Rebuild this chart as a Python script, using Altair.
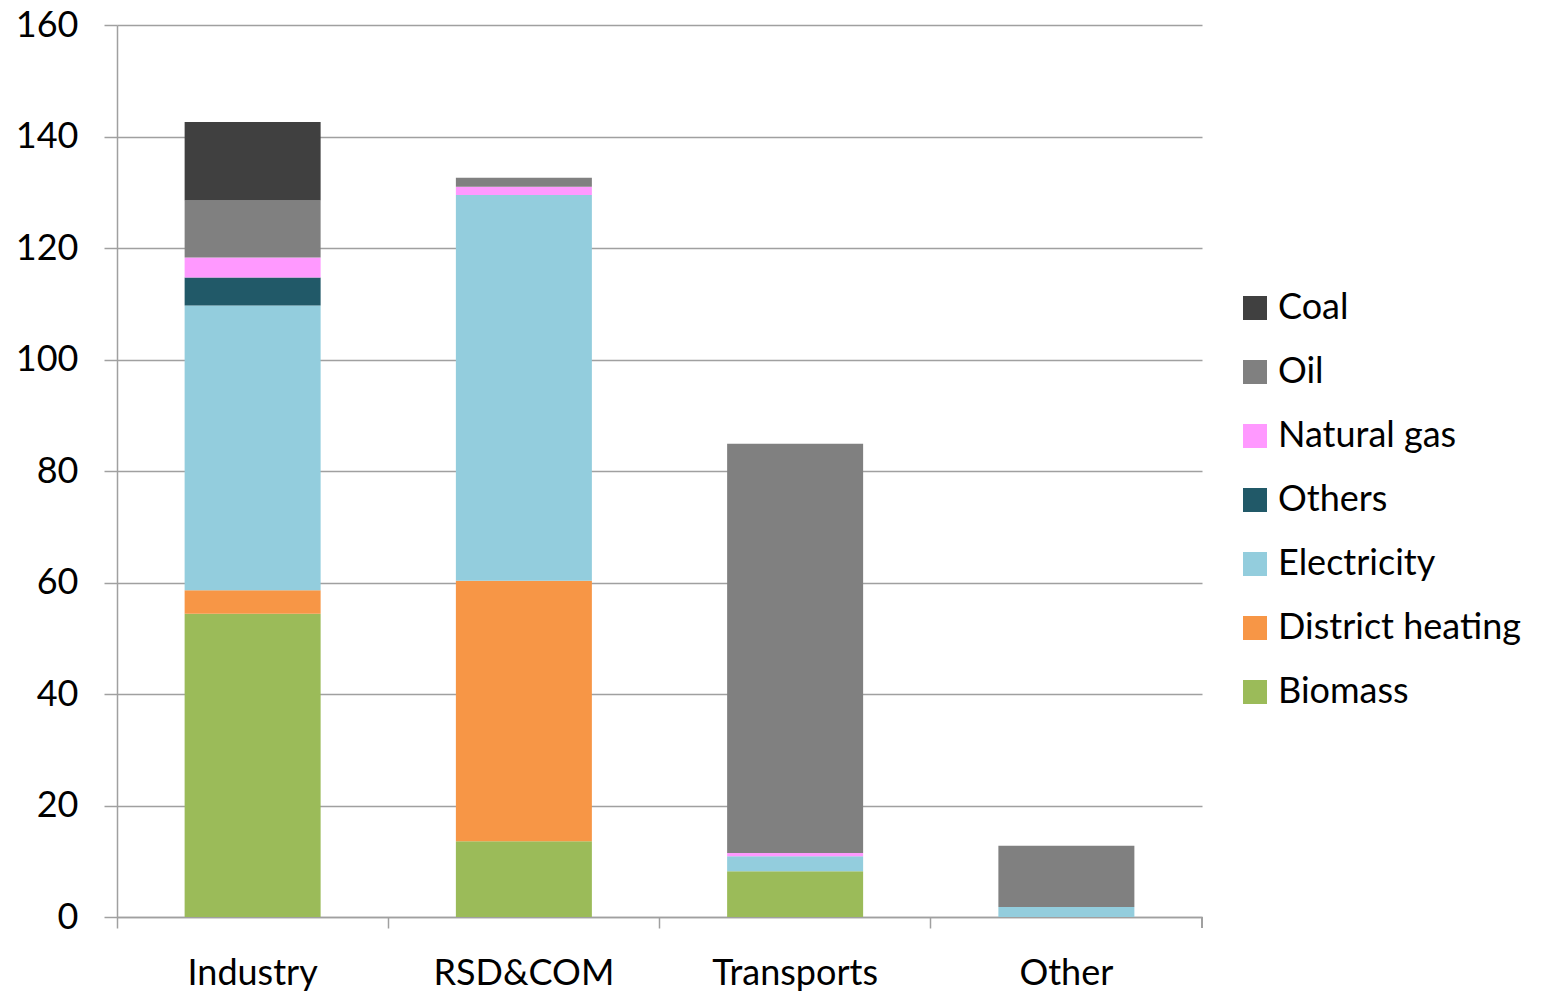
import altair as alt
import pandas as pd

sectors = ["Industry", "RSD&COM", "Transports", "Other"]
fuels = ["Biomass", "District heating", "Electricity", "Others", "Natural gas", "Oil", "Coal"]
colors = ["#9BBB59", "#F79646", "#93CDDD", "#215968", "#FF99FF", "#808080", "#404040"]

# Final consumption by fuel for each sector (bottom to top of each stack)
biomass = [54.4, 13.6, 8.2, 0.0]
district_heating = [4.2, 46.7, 0.0, 0.0]
electricity = [51.1, 69.2, 2.7, 1.8]
others = [5.0, 0.0, 0.0, 0.0]
natural_gas = [3.6, 1.5, 0.6, 0.0]
oil = [10.2, 1.6, 73.4, 11.0]
coal = [14.1, 0.0, 0.0, 0.0]

series = [biomass, district_heating, electricity, others, natural_gas, oil, coal]

rows = []
for k, (fuel, vals) in enumerate(zip(fuels, series)):
    for s, v in zip(sectors, vals):
        rows.append({"sector": s, "fuel": fuel, "value": v, "rank": k})
df = pd.DataFrame(rows)

W, H = 1085, 892
FONT = "Lato"

bars = alt.Chart(df).mark_bar(size=136).encode(
    x=alt.X("sector:N", sort=sectors, title=None,
            scale=alt.Scale(paddingInner=0.5, paddingOuter=0.25),
            axis=alt.Axis(labelAngle=0, labelFontSize=36, labelFont=FONT,
                          labelColor="#000000", labelPadding=28, labelLimit=400,
                          bandPosition=-0.5, ticks=True, tickSize=11,
                          tickColor="#A0A0A0", tickWidth=1.5,
                          domainColor="#A0A0A0", domainWidth=1.5, grid=False)),
    y=alt.Y("value:Q", title=None,
            scale=alt.Scale(domain=[0, 160], nice=False),
            axis=alt.Axis(values=list(range(0, 161, 20)), labelFontSize=36,
                          labelFont=FONT, labelColor="#000000", labelPadding=26,
                          tickSize=13, tickColor="#A0A0A0", tickWidth=1.5,
                          domainColor="#A0A0A0", domainWidth=1.5,
                          gridColor="#A0A0A0", gridWidth=1.5)),
    color=alt.Color("fuel:N", title=None,
                    scale=alt.Scale(domain=fuels, range=colors),
                    sort=list(reversed(fuels)),
                    legend=alt.Legend(orient="none", legendX=1120, legendY=265,
                                      symbolType="square", symbolSize=576,
                                      symbolStrokeWidth=0, labelFontSize=36,
                                      labelFont=FONT, labelColor="#000000",
                                      labelLimit=400,
                                      rowPadding=28, labelOffset=5,
                                      values=list(reversed(fuels)))),
    order=alt.Order("rank:Q", sort="ascending"),
)

# closing tick at the right end of the category axis
end_tick = alt.Chart(df).mark_rule(color="#A0A0A0", strokeWidth=1.5).encode(
    x=alt.value(W), y=alt.value(H), y2=alt.value(H + 11)
)

chart = alt.layer(bars, end_tick).properties(
    width=W, height=H,
    background="#FFFFFF",
    autosize=alt.AutoSizeParams(type="none"),
    padding={"left": 117, "top": 25, "right": 353, "bottom": 77},
).configure_view(stroke=None)

chart.save("out.html", embed_options={"renderer": "svg", "actions": False})
